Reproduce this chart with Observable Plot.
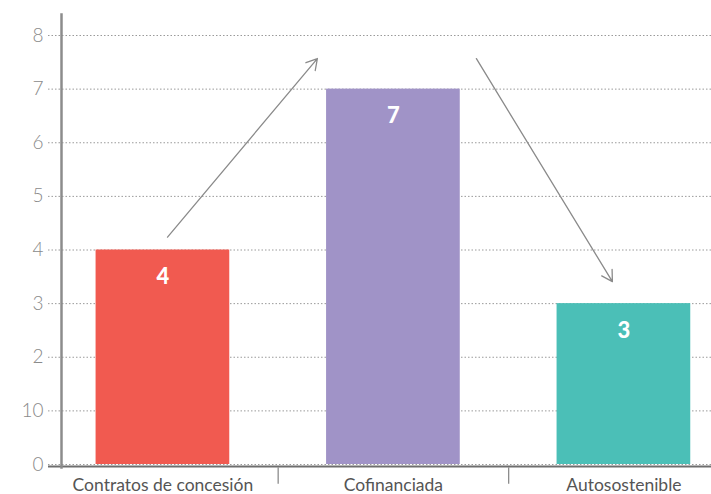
<!DOCTYPE html>
<html>
<head>
<meta charset="utf-8">
<script src="https://cdn.jsdelivr.net/npm/d3@7"></script>
<script src="https://cdn.jsdelivr.net/npm/@observablehq/plot@0.6"></script>
<style>
  html, body { margin: 0; padding: 0; background: #fff; }
  #chart svg { display: block; }
</style>
</head>
<body>
<div id="chart"></div>
<script>
// Data
const categories = ["Contratos de concesión", "Cofinanciada", "Autosostenible"];
const values = [4, 7, 3];
const colors = ["#F15A50", "#A093C7", "#4BBFB7"];
const yTicks = [0, 1, 2, 3, 4, 5, 6, 7, 8];
const yTickLabels = ["0", "10", "2", "3", "4", "5", "6", "7", "8"];
const separators = [0.5, 1.5];
// annotation arrows (x in category index units, y in value units)
const arrowX1 = [0.02, 1.36];
const arrowY1 = [4.24, 7.57];
const arrowX2 = [0.67, 1.95];
const arrowY2 = [7.57, 3.41];

const bars = categories.map((c, i) => ({i, c, v: values[i], color: colors[i]}));
const arrows = arrowX1.map((x, i) => ({x1: x, y1: arrowY1[i], x2: arrowX2[i], y2: arrowY2[i]}));
const half = 0.29;

const chart = Plot.plot({
  width: 711,
  height: 494,
  marginLeft: 61,
  marginRight: 0,
  marginTop: 14,
  marginBottom: 27,
  style: {fontFamily: "Lato, sans-serif", background: "#fff"},
  x: {domain: [-0.44, 2.38]},
  y: {domain: [0, 8], range: [464, 35]},
  marks: [
    Plot.ruleY(yTicks, {stroke: "#9a9a9a", strokeWidth: 1, strokeDasharray: "1.5,2", insetLeft: -13}),
    Plot.rectY(bars, {x1: d => d.i - half, x2: d => d.i + half, y1: 0, y2: "v", fill: "color"}),
    Plot.text(bars, {x: "i", y: "v", text: d => String(d.v), dy: 27, fill: "#fff", fontSize: 22, fontWeight: 900}),
    Plot.arrow(arrows, {x1: "x1", y1: "y1", x2: "x2", y2: "y2", stroke: "#8a8a8a", strokeWidth: 1.3, headLength: 14, bend: false}),
    Plot.ruleY([0], {stroke: "#6e6e6e", strokeWidth: 2, dy: 2, insetLeft: -13}),
    Plot.frame({anchor: "left", stroke: "#8c8c8c", strokeWidth: 2.5}),
    Plot.ruleX(separators, {y1: -0.06, y2: -0.37, stroke: "#8c8c8c", strokeWidth: 1.3}),
    Plot.axisY(yTicks, {tickSize: 0, tickPadding: 18, tickFormat: (d, i) => yTickLabels[i], fontSize: 19, fill: "#8a8a8a", fontWeight: 300, label: null}),
    Plot.axisX([0, 1, 2], {tickSize: 0, tickPadding: 11, tickFormat: d => categories[d], fontSize: 17.5, fill: "#555", label: null})
  ]
});
document.getElementById("chart").appendChild(chart);
</script>
</body>
</html>
